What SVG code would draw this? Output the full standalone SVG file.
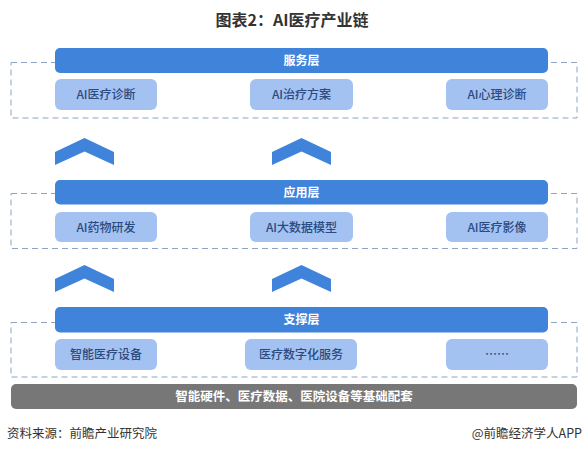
<svg xmlns="http://www.w3.org/2000/svg" width="584" height="454" viewBox="0 0 584 454">
<style>
.t{font-family:"Noto Sans CJK SC","Noto Sans",sans-serif;}
.title{font-size:16px;font-weight:bold;fill:#333;text-anchor:middle;}
.hdr{fill:#3F83DB;}
.hdrt{font-size:12px;font-weight:bold;fill:#fff;text-anchor:middle;}
.sub{fill:#A3C2F1;}
.subt{font-size:12px;fill:#2B4A80;text-anchor:middle;font-weight:500;}
.dash{fill:none;stroke:#8EA4C0;stroke-width:1;stroke-dasharray:6 4;}
.chev{fill:#3F83DB;}
.base{fill:#777;}
.baset{font-size:12.5px;font-weight:bold;fill:#fff;text-anchor:middle;}
.foot{font-size:12.5px;fill:#333;}
</style>
<rect width="584" height="454" fill="#fff"/>
<text class="t title" x="292" y="26">图表2：AI医疗产业链</text>

<g id="layer-service">
<rect class="dash" x="11" y="62.5" width="566" height="55.5"/>
<rect class="hdr" x="55" y="48" width="493" height="25" rx="5"/>
<text class="t hdrt" x="301.5" y="65">服务层</text>
</g>
<g id="svc-1"><rect class="sub" x="55" y="79" width="102" height="31" rx="6"/><text class="t subt" x="106" y="99">AI医疗诊断</text></g>
<g id="svc-2"><rect class="sub" x="250" y="79" width="103" height="31" rx="6"/><text class="t subt" x="301.5" y="99">AI治疗方案</text></g>
<g id="svc-3"><rect class="sub" x="446" y="79" width="102" height="31" rx="6"/><text class="t subt" x="497" y="99">AI心理诊断</text></g>

<g id="layer-app">
<rect class="dash" x="11" y="193.5" width="566" height="55"/>
<rect class="hdr" x="55" y="180" width="493" height="24.5" rx="5"/>
<text class="t hdrt" x="301.5" y="196.5">应用层</text>
</g>
<g id="app-1"><rect class="sub" x="55" y="212" width="102" height="30" rx="6"/><text class="t subt" x="106" y="231.5">AI药物研发</text></g>
<g id="app-2"><rect class="sub" x="250" y="212" width="103" height="30" rx="6"/><text class="t subt" x="301.5" y="231.5">AI大数据模型</text></g>
<g id="app-3"><rect class="sub" x="446" y="212" width="102" height="30" rx="6"/><text class="t subt" x="497" y="231.5">AI医疗影像</text></g>

<g id="layer-support">
<rect class="dash" x="11" y="322.5" width="566" height="54.5"/>
<rect class="hdr" x="55" y="307" width="493" height="25.5" rx="5"/>
<text class="t hdrt" x="301.5" y="324">支撑层</text>
</g>
<g id="sup-1"><rect class="sub" x="55" y="339" width="102" height="31" rx="6"/><text class="t subt" x="106" y="359">智能医疗设备</text></g>
<g id="sup-2"><rect class="sub" x="245" y="339" width="112" height="31" rx="6"/><text class="t subt" x="301" y="359">医疗数字化服务</text></g>
<g id="sup-3"><rect class="sub" x="446" y="339" width="102" height="31" rx="6"/><text class="t subt" x="497" y="359">……</text></g>

<g id="base">
<rect class="base" x="11" y="384" width="566" height="25" rx="5"/>
<text class="t baset" x="294" y="401">智能硬件、医疗数据、医院设备等基础配套</text>
</g>

<g id="connectors">
<path class="chev" d="M55,165 L55,152 L84.5,138 L114,152 L114,165 L84.5,151.5 Z"/>
<path class="chev" d="M272,165 L272,152 L301.5,138 L331,152 L331,165 L301.5,151.5 Z"/>
<path class="chev" d="M55,292 L55,279 L84.5,265 L114,279 L114,292 L84.5,278.5 Z"/>
<path class="chev" d="M272,292 L272,279 L301.5,265 L331,279 L331,292 L301.5,278.5 Z"/>
</g>

<text class="t foot" x="7" y="438">资料来源：前瞻产业研究院</text>
<text class="t foot" x="582" y="438" text-anchor="end">@前瞻经济学人APP</text>
</svg>
